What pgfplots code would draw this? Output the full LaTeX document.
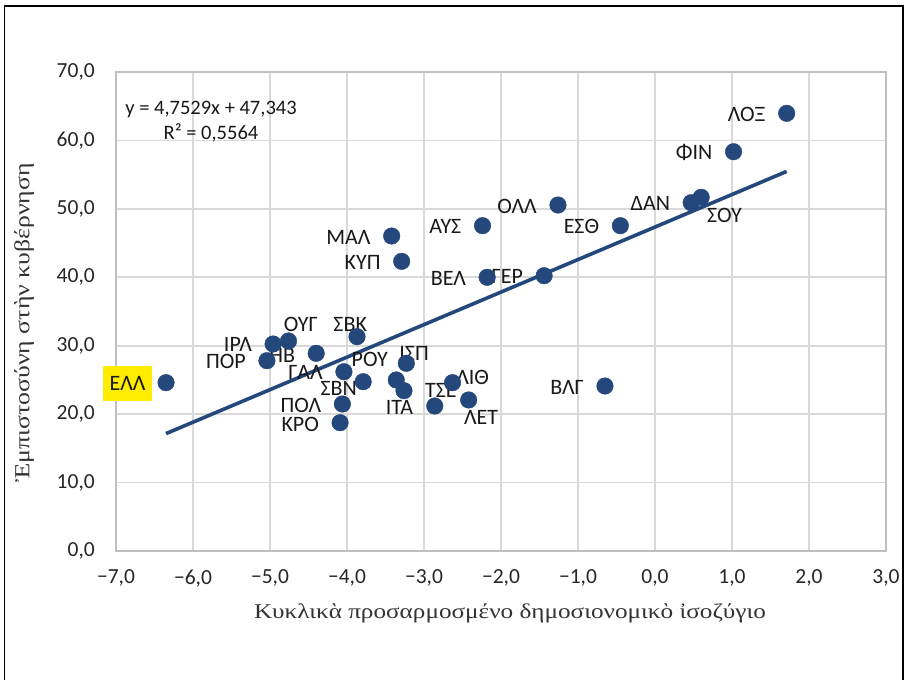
\documentclass[border=0pt]{standalone}
\usepackage{fontspec}
\setmainfont{Carlito}
\newfontfamily\grfont[FakeStretch=1.2]{Liberation Serif}
\usepackage{pgfplots}
\usepackage{pgfplotstable}
\pgfplotsset{compat=1.18}
\definecolor{dotblue}{RGB}{37,72,124}
\definecolor{gridgray}{RGB}{217,217,217}
\definecolor{bordergray}{RGB}{191,191,191}
\definecolor{hlyellow}{RGB}{255,236,0}

% points whose label sits to the left
\pgfplotstableread{
x y lab dx dy fo isx isy
1.71 63.96 ΛΟΞ -21 -1 0 0 0
1.02 58.35 ΦΙΝ -21 -1 0 0 0
0.47 50.90 ΔΑΝ -21 -1 0 0 0
-1.26 50.56 ΟΛΛ -21 -1 0 0 0
-0.45 47.54 ΕΣΘ -21 -1 0 0 0
-2.24 47.54 ΑΥΣ -21 -1 0 0 0
-2.18 40.00 ΒΕΛ -21 -1 0 0 0
-1.44 40.23 ΓΕΡ -21 -1 0 0 0
-3.42 46.03 ΜΑΛ -21 -1 0 0 0
-3.29 42.33 ΚΥΠ -21 -1 0 0 0
-6.35 24.60 ΕΛΛ -13.4 -0.5 1 7 10.4
-5.04 27.81 ΠΟΡ -21 -1 0 0 0
-4.96 30.25 ΙΡΛ -21 0 0 0 0
-4.40 28.89 ΗΒ -21 -2.4 0 0 0
-4.04 26.20 ΓΑΛ -21 -1 0 0 0
-4.06 21.48 ΠΟΛ -21 -1.5 0 0 0
-4.09 18.75 ΚΡΟ -21 -1.5 0 0 0
-0.65 24.11 ΒΛΓ -21 -1 0 0 0
}\dataleft
% points whose label is placed elsewhere (offset of label centre)
\pgfplotstableread{
x y lab dx dy
0.60 51.69 ΣΟΥ 23.3 -17.7
-4.76 30.69 ΟΥΓ 12.4 17
-3.87 31.32 ΣΒΚ -6.8 12.7
-3.79 24.74 ΣΒΝ -24.5 -6.6
-3.36 24.99 ΡΟΥ -26.5 20.7
-3.26 23.43 ΙΤΑ -4.5 -16.6
-3.23 27.43 ΙΣΠ 7.8 10
-2.86 21.19 ΤΣΕ 6.2 15.3
-2.63 24.60 ΛΙΘ 20.2 5.4
-2.42 22.07 ΛΕΤ 12.5 -17.3
}\datacust

\begin{document}
\begin{tikzpicture}
\useasboundingbox[fill=white] (0,0) rectangle (906pt,680pt);
\draw[black, line width=1.3pt] (4.5pt,0pt) -- (4.5pt,674pt) -- (903pt,674pt) -- (903pt,0pt);
\begin{axis}[
  at={(116pt,129pt)}, anchor=south west,
  scale only axis, width=770pt, height=479pt,
  xmin=-7, xmax=3, ymin=0, ymax=70,
  xtick={-7,-6,-5,-4,-3,-2,-1,0,1,2,3},
  ytick={0,10,20,30,40,50,60,70},
  xticklabels={{−7,0},{−6,0},{−5,0},{−4,0},{−3,0},{−2,0},{−1,0},{0,0},{1,0},{2,0},{3,0}},
  yticklabels={{0,0},{10,0},{20,0},{30,0},{40,0},{50,0},{60,0},{70,0}},
  major tick length=0pt,
  tick label style={font=\fontsize{21.5}{25}\selectfont, text=black!85, inner sep=0pt},
  xticklabel shift=18.5pt, yticklabel shift=21pt,
  grid=major,
  major grid style={gridgray, line width=1.6pt},
  axis line style={bordergray, line width=2.5pt},
  xlabel={Κυκλικὰ προσαρμοσμένο δημοσιονομικὸ ἰσοζύγιο},
  ylabel={Ἐμπιστοσύνη στὴν κυβέρνηση},
  xlabel style={at={(axis description cs:0.5117,-0.1294)}, anchor=center, font=\grfont\fontsize{21}{25}\selectfont, text=black!80},
  ylabel style={at={(axis description cs:-0.1195,0.476)}, anchor=center, font=\grfont\fontsize{21.5}{25}\selectfont, text=black!80},
  clip=false,
]
\addplot[dotblue, line width=3.6pt, no markers] coordinates {(-6.35,17.16) (1.71,55.47)};
\addplot[draw=none, no markers,
  nodes near coords, point meta=explicit symbolic,
  visualization depends on={\thisrow{dx} \as \dx},
  visualization depends on={\thisrow{dy} \as \dy},
  visualization depends on={\thisrow{isx} \as \isx},
  visualization depends on={\thisrow{isy} \as \isy},
  visualization depends on={\thisrow{fo} \as \fo},
  every node near coord/.append style={anchor=east, xshift=\dx pt, yshift=\dy pt,
     font=\fontsize{22}{26}\selectfont, text=black!90, fill=hlyellow, fill opacity=\fo, text opacity=1,
     inner xsep=\isx pt, inner ysep=\isy pt},
] table[x=x, y=y, meta=lab]{\dataleft};
\addplot[draw=none, no markers,
  nodes near coords, point meta=explicit symbolic,
  visualization depends on={\thisrow{dx} \as \dx},
  visualization depends on={\thisrow{dy} \as \dy},
  every node near coord/.append style={anchor=center, xshift=\dx pt, yshift=\dy pt,
     font=\fontsize{22}{26}\selectfont, text=black!90, inner sep=0pt},
] table[x=x, y=y, meta=lab]{\datacust};
\addplot[only marks, mark=*, mark size=8.3pt, mark options={fill=dotblue, draw=dotblue}] table[x=x, y=y]{\dataleft};
\addplot[only marks, mark=*, mark size=8.3pt, mark options={fill=dotblue, draw=dotblue}] table[x=x, y=y]{\datacust};
\node[align=center, font=\fontsize{20.5}{25}\selectfont, text=black!90] at (axis cs:-5.766,62.7) {y = 4,7529x + 47,343\\R² = 0,5564};
\end{axis}
\end{tikzpicture}
\end{document}
